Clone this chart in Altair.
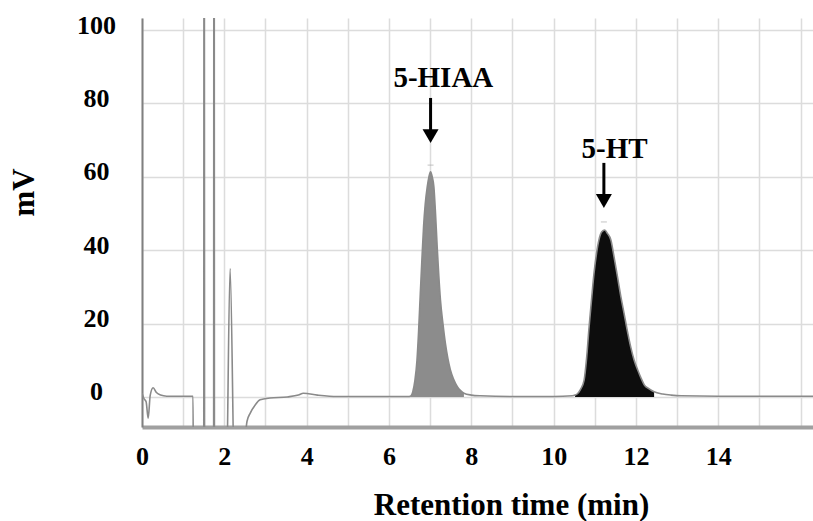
import altair as alt
import pandas as pd

FONT = "Liberation Serif"

# ---- chromatogram trace (time in min, signal in mV) ----
early_t = [0.00, 0.05, 0.10, 0.15, 0.20, 0.27, 0.35, 0.45, 0.60, 1.24, 1.25,
           1.50, 1.51, 1.52, 1.74, 1.75, 1.76, 2.04, 2.14, 2.26, 2.50, 2.55,
           2.63, 2.75, 2.87, 3.11, 3.53, 3.80, 3.92, 4.26, 4.74, 5.50, 6.45]
early_mv = [1.0, -0.5, -1.3, -5.8, 0.5, 2.5, 1.2, 0.5, 0.2, 0.2, -30,
            -30, 300, -30, -30, 300, -30, -30, 35, -30, -12, -6.7,
            -4.4, -2.2, -0.8, -0.3, 0.0, 0.5, 1.0, 0.5, 0.1, 0.1, 0.1]

hiaa_t = [6.52, 6.58, 6.63, 6.68, 6.72, 6.76, 6.80, 6.84, 6.88, 6.93, 6.97, 7.01,
          7.05, 7.09, 7.13, 7.17, 7.21, 7.25, 7.31, 7.37, 7.43, 7.49, 7.57, 7.66,
          7.74, 7.82]
hiaa_mv = [0.2, 1.5, 4.5, 10.0, 18.0, 28.0, 37.5, 46.4, 52.5, 57.3, 60.0, 61.4,
           60.0, 57.3, 50.0, 41.0, 33.0, 26.4, 20.0, 14.6, 10.5, 7.4, 4.8, 2.8,
           1.7, 1.0]

mid_t = [8.00, 8.22, 9.00, 10.00, 10.45]
mid_mv = [0.5, 0.3, 0.1, 0.1, 0.3]

ht_t = [10.52, 10.57, 10.65, 10.74, 10.80, 10.86, 10.92, 10.98, 11.04, 11.10,
        11.17, 11.24, 11.31, 11.39, 11.47, 11.55, 11.63, 11.71, 11.79, 11.87,
        11.95, 12.04, 12.12, 12.20, 12.32, 12.44]
ht_mv = [0.5, 0.8, 2.0, 4.6, 10.5, 19.0, 26.5, 33.7, 39.0, 42.8,
         45.0, 45.5, 44.5, 42.8, 38.0, 32.8, 27.5, 22.8, 18.0, 13.7,
         10.2, 7.4, 5.2, 3.3, 2.2, 1.4]

late_t = [12.65, 12.85, 13.10, 14.00, 15.00, 16.30]
late_mv = [0.8, 0.5, 0.3, 0.2, 0.2, 0.2]

# ---- annotations ----
ann_label = ["5-HIAA", "5-HT"]
ann_t = [7.32, 11.48]
ann_mv = [84.5, 65.1]
arrow_t = [7.01, 11.22]
arrow_top = [81.5, 63.8]
arrow_head = [71.1, 53.4]
marker_mv = [63.2, 47.7]

y_ticks = [0, 20, 40, 60, 80, 100]
x_grid = list(range(0, 17))

trace = pd.DataFrame({
    "t": early_t + hiaa_t + mid_t + ht_t + late_t,
    "mv": early_mv + hiaa_mv + mid_mv + ht_mv + late_mv,
})
trace["i"] = range(len(trace))
hiaa = pd.DataFrame({"t": hiaa_t, "mv": hiaa_mv, "base": [0.0] * len(hiaa_t)})
ht = pd.DataFrame({"t": ht_t, "mv": ht_mv, "base": [0.0] * len(ht_t)})
ann = pd.DataFrame({"label": ann_label, "t": ann_t, "mv": ann_mv})
arrows = pd.DataFrame({"t": arrow_t, "top": arrow_top, "head": arrow_head,
                       "marker": marker_mv})

xscale = alt.Scale(domain=[0, 16.3], nice=False, zero=False)
yscale = alt.Scale(domain=[-8.2, 103.3], nice=False, zero=False)

xaxis = alt.Axis(
    values=x_grid,
    labelExpr="datum.value % 2 == 0 && datum.value <= 14 ? datum.label : ''",
    labelOverlap=False, labelFlush=False,
    ticks=False, tickSize=0, labelPadding=37, labelBaseline="alphabetic",
    labelFont=FONT, labelFontSize=26, labelFontWeight="bold", labelColor="black",
    grid=True, gridColor="#dcdcdc", gridWidth=1.5,
    domainColor="#a0a0a0", domainWidth=4,
    title="Retention time (min)", titleFont=FONT, titleFontSize=31,
    titleFontWeight="bold", titleColor="black",
    titleX=369, titleY=87, titleBaseline="alphabetic", titleAlign="center",
)
yaxis = alt.Axis(
    values=y_ticks, ticks=False, tickSize=0, labelPadding=46,
    labelAlign="center", labelBaseline="middle", labelOffset=-5,
    labelFont=FONT, labelFontSize=26, labelFontWeight="bold", labelColor="black",
    grid=True, gridColor="#dcdcdc", gridWidth=1.5,
    domainColor="#808080", domainWidth=2,
    title="mV", titleFont=FONT, titleFontSize=31, titleFontWeight="bold",
    titleColor="black", titleAngle=270,
    titleX=-118, titleY=174, titleBaseline="middle", titleAlign="center",
)

fill_hiaa = alt.Chart(hiaa).mark_area(color="#8c8c8c", clip=True,
                                      interpolate="monotone").encode(
    x=alt.X("t:Q", scale=xscale, axis=xaxis),
    y=alt.Y("mv:Q", scale=yscale, axis=yaxis),
    y2="base:Q",
)
fill_ht = alt.Chart(ht).mark_area(color="#0d0d0d", clip=True,
                                  interpolate="monotone").encode(
    x=alt.X("t:Q", scale=xscale),
    y=alt.Y("mv:Q", scale=yscale),
    y2="base:Q",
)
line = alt.Chart(trace).mark_line(color="#8a8a8a", strokeWidth=1.6, clip=True,
                                  interpolate="monotone").encode(
    x=alt.X("t:Q", scale=xscale),
    y=alt.Y("mv:Q", scale=yscale),
    order="i:Q",
)
markers = alt.Chart(arrows).mark_tick(orient="horizontal", size=6, thickness=1,
                                      color="#aaaaaa").encode(
    x=alt.X("t:Q", scale=xscale),
    y=alt.Y("marker:Q", scale=yscale),
)
shafts = alt.Chart(arrows).mark_rule(color="black", strokeWidth=3).encode(
    x=alt.X("t:Q", scale=xscale),
    y=alt.Y("top:Q", scale=yscale),
    y2="head:Q",
)
heads = alt.Chart(arrows).mark_point(shape="triangle-down", size=256, filled=True,
                                     color="black", opacity=1).encode(
    x=alt.X("t:Q", scale=xscale),
    y=alt.Y("head:Q", scale=yscale),
)
labels = alt.Chart(ann).mark_text(font=FONT, fontSize=29, fontWeight="bold",
                                  color="black", baseline="alphabetic",
                                  align="center").encode(
    x=alt.X("t:Q", scale=xscale),
    y=alt.Y("mv:Q", scale=yscale),
    text="label:N",
)

chart = alt.layer(fill_hiaa, fill_ht, line, markers, shafts, heads, labels).properties(
    width=671, height=409,
    padding={"left": 142, "top": 18, "right": 0, "bottom": 94},
    autosize=alt.AutoSizeParams(type="none"),
    background="white",
).configure_view(stroke=None)

chart.save("out.html", embed_options={"renderer": "svg", "actions": False})
